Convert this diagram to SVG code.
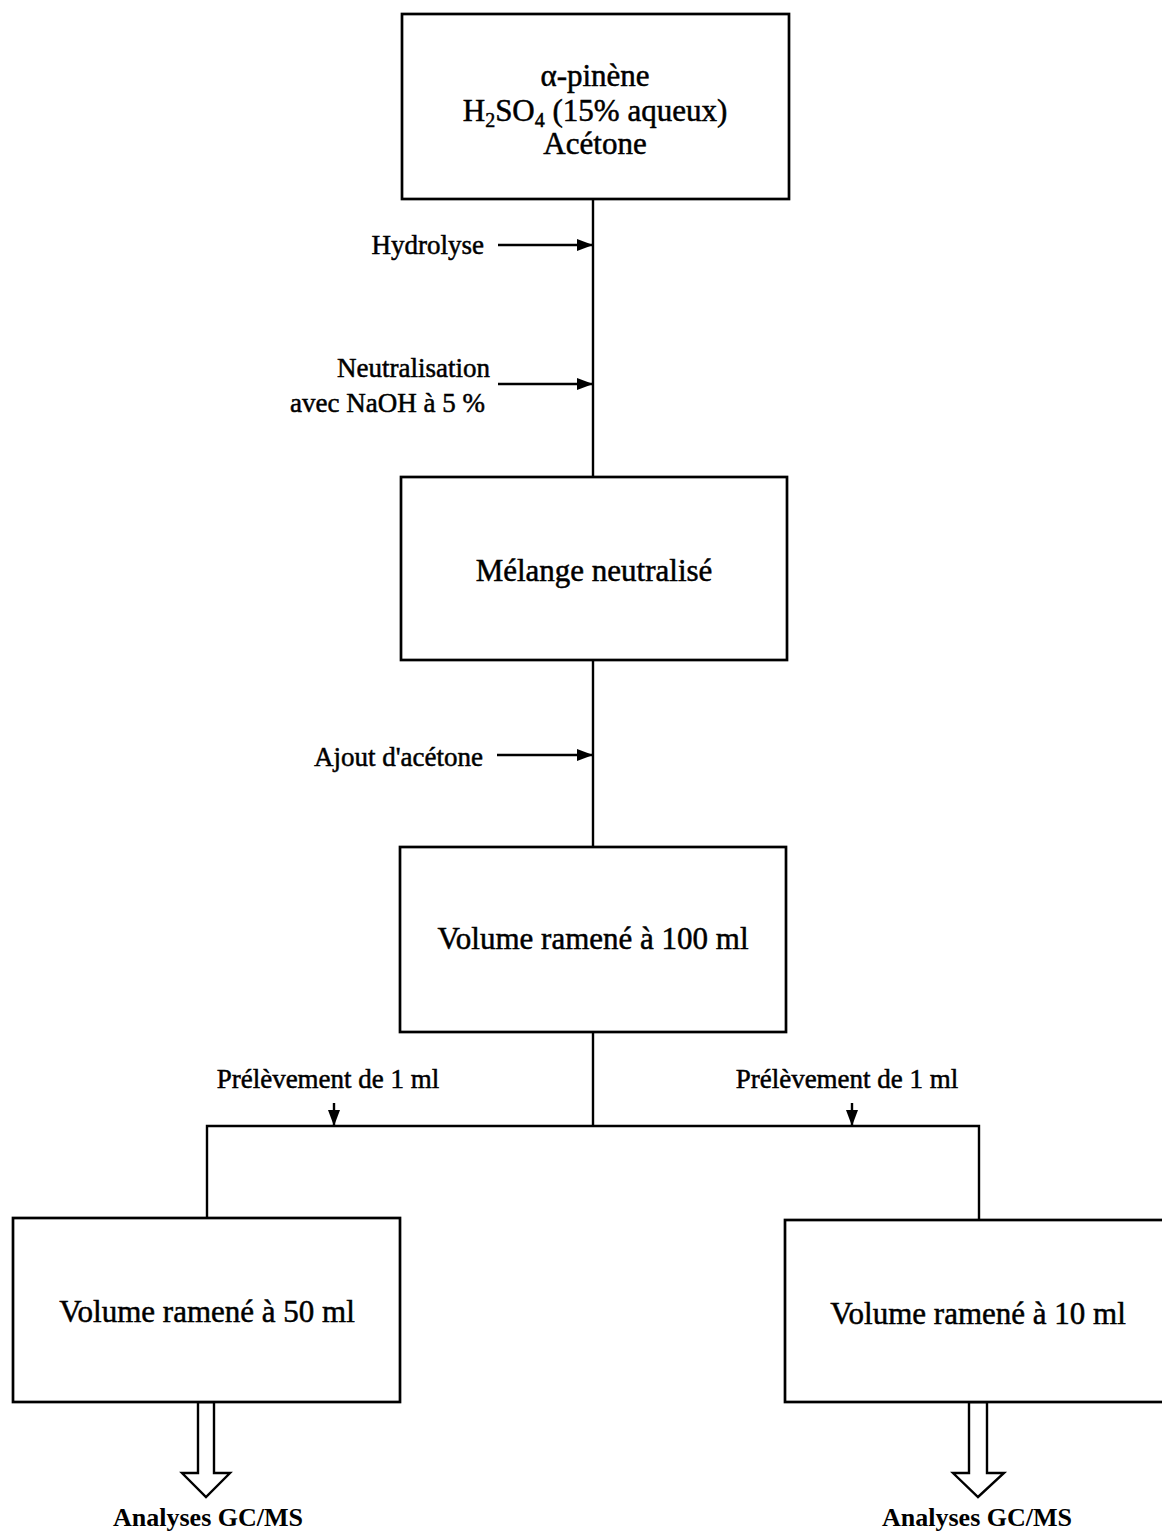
<svg xmlns="http://www.w3.org/2000/svg" width="1162" height="1533" viewBox="0 0 1162 1533">
  <style>
    .box { fill: #fff; stroke: #000; stroke-width: 2.7; }
    .wire { fill: none; stroke: #000; stroke-width: 2.4; }
    .hollow { fill: #fff; stroke: #000; stroke-width: 2.4; stroke-linejoin: miter; }
    .big { font-family: "Liberation Serif", "Times New Roman", serif; font-size: 31px; fill: #000; stroke: #000; stroke-width: 0.5; text-anchor: middle; }
    .lbl { font-family: "Liberation Serif", "Times New Roman", serif; font-size: 27px; fill: #000; stroke: #000; stroke-width: 0.5; }
    .out { font-family: "Liberation Serif", "Times New Roman", serif; font-size: 26px; font-weight: bold; fill: #000; text-anchor: middle; }
  </style>
  <defs>
    <marker id="head" markerUnits="userSpaceOnUse" markerWidth="16" markerHeight="12" refX="16" refY="6" orient="auto">
      <path d="M0,0 L16,6 L0,12 z" fill="#000"/>
    </marker>
  </defs>

  <rect width="1162" height="1533" fill="#fff"/>

  <!-- connectors -->
  <g id="connectors">
    <line class="wire" x1="593" y1="199" x2="593" y2="477"/>
    <line class="wire" x1="593" y1="660" x2="593" y2="847"/>
    <line class="wire" x1="593" y1="1032" x2="593" y2="1126"/>
    <polyline class="wire" points="207,1218 207,1126 979,1126 979,1220"/>
    <line class="wire" x1="498" y1="245" x2="593" y2="245" marker-end="url(#head)"/>
    <line class="wire" x1="498" y1="384" x2="593" y2="384" marker-end="url(#head)"/>
    <line class="wire" x1="497" y1="755" x2="593" y2="755" marker-end="url(#head)"/>
    <line class="wire" x1="334" y1="1103" x2="334" y2="1126" marker-end="url(#head)"/>
    <line class="wire" x1="852" y1="1103" x2="852" y2="1126" marker-end="url(#head)"/>
    <polygon class="hollow" points="198,1402 198,1473 182,1473 206,1497 230,1473 214,1473 214,1402"/>
    <polygon class="hollow" points="969,1402 969,1473 953,1473 978,1497 1004,1473 987,1473 987,1402"/>
  </g>

  <!-- step labels -->
  <g id="labels">
    <text class="lbl" x="484" y="254" text-anchor="end">Hydrolyse</text>
    <text class="lbl" x="490" y="377" text-anchor="end">Neutralisation</text>
    <text class="lbl" x="485" y="412" text-anchor="end">avec NaOH à 5 %</text>
    <text class="lbl" x="483" y="766" text-anchor="end">Ajout d'acétone</text>
    <text class="lbl" x="328" y="1088" text-anchor="middle">Prélèvement de 1 ml</text>
    <text class="lbl" x="847" y="1088" text-anchor="middle">Prélèvement de 1 ml</text>
  </g>

  <g id="reactifs">
    <rect class="box" x="402" y="14" width="387" height="185"/>
    <text class="big" x="595" y="86">α-pinène</text>
    <text class="big" x="595" y="121">H<tspan font-size="20" dy="6">2</tspan><tspan dy="-6">SO</tspan><tspan font-size="20" dy="6">4</tspan><tspan dy="-6"> (15% aqueux)</tspan></text>
    <text class="big" x="595" y="154">Acétone</text>
  </g>

  <g id="melange">
    <rect class="box" x="401" y="477" width="386" height="183"/>
    <text class="big" x="594" y="581">Mélange neutralisé</text>
  </g>

  <g id="vol100">
    <rect class="box" x="400" y="847" width="386" height="185"/>
    <text class="big" x="593" y="949">Volume ramené à 100 ml</text>
  </g>

  <g id="vol50">
    <rect class="box" x="13" y="1218" width="387" height="184"/>
    <text class="big" x="207" y="1322">Volume ramené à 50 ml</text>
    <text class="out" x="208" y="1526">Analyses GC/MS</text>
  </g>

  <g id="vol10">
    <rect class="box" x="785" y="1220" width="400" height="182"/>
    <text class="big" x="978" y="1324">Volume ramené à 10 ml</text>
    <text class="out" x="977" y="1526">Analyses GC/MS</text>
  </g>
</svg>
